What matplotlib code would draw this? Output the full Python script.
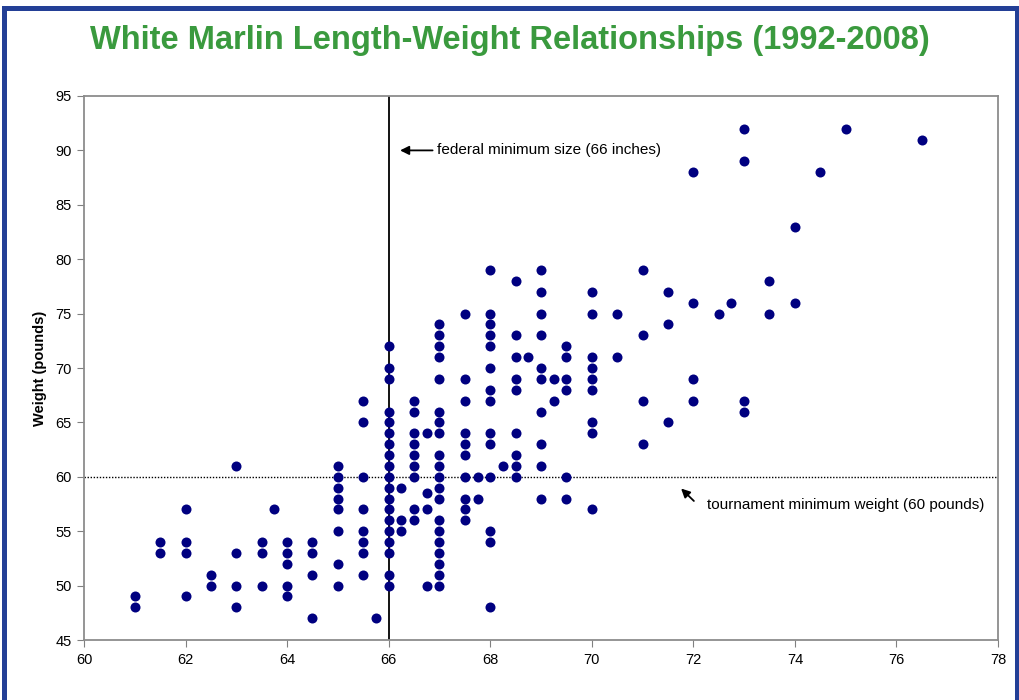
import matplotlib
matplotlib.use("Agg")
import matplotlib.pyplot as plt
from matplotlib.patches import Rectangle

plt.rcParams['font.family'] = ['Liberation Sans', 'DejaVu Sans']

# lengths (inches) and weights (pounds), read column by column
length = [61, 61,
          61.5, 61.5,
          62, 62, 62, 62,
          62.5, 62.5,
          63, 63, 63, 63,
          63.5, 63.5, 63.5,
          63.75,
          64, 64, 64, 64, 64,
          64.5, 64.5, 64.5, 64.5,
          65, 65, 65, 65, 65, 65, 65, 65,
          65.5, 65.5, 65.5, 65.5, 65.5, 65.5, 65.5, 65.5,
          65.75,
          66, 66, 66, 66, 66, 66, 66, 66, 66, 66, 66, 66, 66, 66, 66, 66, 66, 66, 66,
          66.25, 66.25, 66.25,
          66.5, 66.5, 66.5, 66.5, 66.5, 66.5, 66.5, 66.5, 66.5,
          66.75, 66.75, 66.75, 66.75,
          67, 67, 67, 67, 67, 67, 67, 67, 67, 67, 67, 67, 67, 67, 67, 67, 67, 67, 67, 67,
          67.5, 67.5, 67.5, 67.5, 67.5, 67.5, 67.5, 67.5, 67.5, 67.5,
          67.75, 67.75,
          68, 68, 68, 68, 68, 68, 68, 68, 68, 68, 68, 68, 68, 68,
          68.25,
          68.5, 68.5, 68.5, 68.5, 68.5, 68.5, 68.5, 68.5, 68.5,
          68.75,
          69, 69, 69, 69, 69, 69, 69, 69, 69, 69,
          69.25, 69.25,
          69.5, 69.5, 69.5, 69.5, 69.5, 69.5,
          70, 70, 70, 70, 70, 70, 70, 70, 70,
          70.5, 70.5,
          71, 71, 71, 71,
          71.5, 71.5, 71.5,
          72, 72, 72, 72,
          72.5,
          72.75,
          73, 73, 73, 73,
          73.5, 73.5,
          74, 74,
          74.5,
          75,
          76.5]

weight = [49, 48,
          54, 53,
          57, 54, 53, 49,
          51, 50,
          61, 53, 50, 48,
          54, 53, 50,
          57,
          54, 53, 52, 50, 49,
          54, 53, 51, 47,
          61, 60, 59, 58, 57, 55, 52, 50,
          67, 65, 60, 57, 55, 54, 53, 51,
          47,
          72, 70, 69, 66, 65, 64, 63, 62, 61, 60, 59, 58, 57, 56, 55, 54, 53, 51, 50,
          59, 56, 55,
          67, 66, 64, 63, 62, 61, 60, 57, 56,
          64, 58.5, 57, 50,
          74, 73, 72, 71, 69, 66, 65, 64, 62, 61, 60, 59, 58, 56, 55, 54, 53, 52, 51, 50,
          75, 69, 67, 64, 63, 62, 60, 58, 57, 56,
          60, 58,
          79, 75, 74, 73, 72, 70, 68, 67, 64, 63, 60, 55, 54, 48,
          61,
          78, 73, 71, 69, 68, 64, 62, 61, 60,
          71,
          79, 77, 75, 73, 70, 69, 66, 63, 61, 58,
          69, 67,
          72, 71, 69, 68, 60, 58,
          77, 75, 71, 70, 69, 68, 65, 64, 57,
          75, 71,
          79, 73, 67, 63,
          77, 74, 65,
          88, 76, 69, 67,
          75,
          76,
          92, 89, 67, 66,
          78, 75,
          83, 76,
          88,
          92,
          91]

federal_min = 66
tournament_min = 60

fig = plt.figure(figsize=(10.19, 7.0), dpi=100)
ax = fig.add_axes([84 / 1019, 1 - 640 / 700, (998 - 84) / 1019, (640 - 96) / 700])

ax.scatter(length, weight, s=52, color='#000080', zorder=3, linewidths=0)
ax.axvline(federal_min, color='black', lw=1.3, zorder=2)
ax.axhline(tournament_min, color='black', lw=1.0, ls=(0, (1, 1.2)), zorder=2)

ax.annotate('', xy=(66.17, 90), xytext=(66.92, 90),
            arrowprops=dict(arrowstyle='-|>', color='black', lw=1.3, mutation_scale=13))
ax.text(66.95, 90, 'federal minimum size (66 inches)', fontsize=11, va='center', ha='left')
ax.annotate('', xy=(71.72, 59.1), xytext=(72.05, 57.6),
            arrowprops=dict(arrowstyle='-|>', color='black', lw=1.3, mutation_scale=13))
ax.text(72.27, 57.4, 'tournament minimum weight (60 pounds)', fontsize=11, va='center', ha='left')

ax.set_xlim(60, 78)
ax.set_ylim(45, 95)
ax.set_xticks(range(60, 79, 2))
ax.set_yticks(range(45, 96, 5))
ax.tick_params(direction='out', length=5, color='#808080', labelsize=10.5, pad=4)
for s in ax.spines.values():
    s.set_color('#8c8c8c')
    s.set_linewidth(1.3)
ax.set_ylabel('Weight (pounds)', fontsize=10.5, fontweight='bold', labelpad=6)

fig.text(0.5, 1 - 41 / 700, 'White Marlin Length-Weight Relationships (1992-2008)',
         fontweight='bold', fontsize=23.5, color='#3a9a3e', ha='center', va='center')

# blue frame around the figure
blue = '#233f96'
fig.add_artist(Rectangle((2 / 1019, 0), 5 / 1019, 1 - 6 / 700, transform=fig.transFigure,
                         color=blue, lw=0))
fig.add_artist(Rectangle((2 / 1019, 1 - 11 / 700), 1017 / 1019, 5 / 700, transform=fig.transFigure,
                         color=blue, lw=0))
fig.add_artist(Rectangle((1015 / 1019, 0), 4 / 1019, 1 - 6 / 700, transform=fig.transFigure,
                         color=blue, lw=0))

fig.savefig('out.png', dpi=100)
